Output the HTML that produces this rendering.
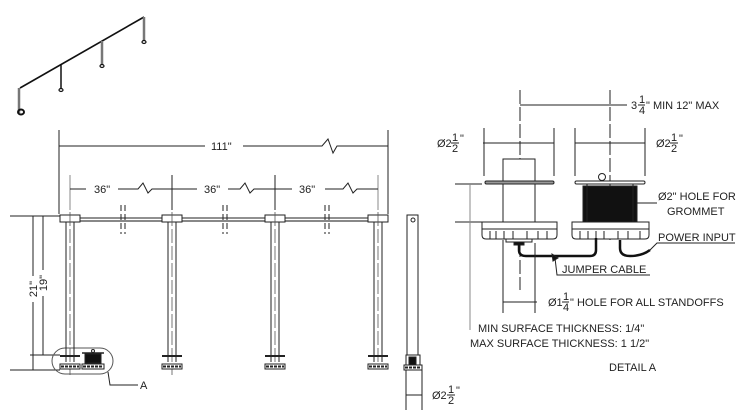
<!DOCTYPE html>
<html><head><meta charset="utf-8"><style>
html,body{margin:0;padding:0;background:#fff;}
svg{display:block;font-family:"Liberation Sans",sans-serif;}
text{fill:#222;font-size:11px;}
</style></head><body>
<svg width="750" height="420" viewBox="0 0 750 420" xmlns="http://www.w3.org/2000/svg">
<!-- ISO view -->
<g stroke="#111" fill="none">
<line x1="20" y1="88" x2="144" y2="17" stroke-width="1.6"/>
<line x1="19" y1="88" x2="19" y2="113" stroke="#777" stroke-width="2.5"/>
<line x1="61" y1="64" x2="61" y2="89" stroke-width="1.5"/>
<line x1="102" y1="41" x2="102" y2="65" stroke="#777" stroke-width="2.5"/>
<line x1="144" y1="17" x2="144" y2="41" stroke="#777" stroke-width="2.5"/>
<ellipse cx="21" cy="112" rx="3" ry="2.5" stroke-width="2"/>
<ellipse cx="61" cy="90" rx="2" ry="1.5" stroke-width="1.2"/>
<ellipse cx="102" cy="66" rx="2" ry="1.5" stroke-width="1.2"/>
<ellipse cx="144" cy="42" rx="2" ry="1.5" stroke-width="1.2"/>
</g>

<!-- Front view dims -->
<g stroke="#222" stroke-width="1" fill="none">
<line x1="59" y1="130" x2="59" y2="214"/>
<line x1="388" y1="130" x2="388" y2="214"/>
<polyline points="59,146 205,146"/>
<polyline points="243,146 322,146 328,139 333,153 337,146 388,146"/>
<line x1="70" y1="175" x2="70" y2="210" stroke="#888"/>
<line x1="172" y1="175" x2="172" y2="210"/>
<line x1="275" y1="175" x2="275" y2="210"/>
<line x1="378" y1="175" x2="378" y2="210" stroke="#888"/>
<polyline points="70,189 86,189"/><polyline points="118,189 138,189 143,183 148,193 152,189 172,189"/>
<polyline points="172,189 197,189"/><polyline points="228,189 240,189 245,183 250,193 254,189 275,189"/>
<polyline points="275,189 292,189"/><polyline points="325,189 343,189 348,183 353,193 357,189 378,189"/>
<line x1="80" y1="218" x2="370" y2="218"/>
<line x1="80" y1="221" x2="370" y2="221" stroke="#888" stroke-width="2"/>
<line x1="121" y1="205" x2="121" y2="234" stroke-dasharray="6,3"/><line x1="125" y1="205" x2="125" y2="234" stroke-dasharray="6,3"/>
<line x1="223" y1="205" x2="223" y2="234" stroke-dasharray="6,3"/><line x1="227" y1="205" x2="227" y2="234" stroke-dasharray="6,3"/>
<line x1="325" y1="205" x2="325" y2="234" stroke-dasharray="6,3"/><line x1="329" y1="205" x2="329" y2="234" stroke-dasharray="6,3"/>
<line x1="10" y1="216" x2="60" y2="216"/>
<line x1="10" y1="370" x2="60" y2="370"/>
<line x1="30" y1="355" x2="60" y2="355"/>
<line x1="33" y1="216" x2="33" y2="276"/><line x1="33" y1="302" x2="33" y2="370"/>
<line x1="43" y1="216" x2="43" y2="270"/><line x1="43" y1="296" x2="43" y2="355"/>
<rect x="52" y="348" width="61" height="26" rx="13" ry="13" stroke="#555"/>
<polyline points="108,372 110,385 138,385"/>
</g>
<text x="211" y="150">111"</text>
<text x="94" y="193">36"</text><text x="204" y="193">36"</text><text x="299" y="193">36"</text>
<text transform="translate(37,289) rotate(-90)" text-anchor="middle">21"</text>
<text transform="translate(47,283) rotate(-90)" text-anchor="middle">19"</text>
<text x="140" y="389">A</text>

<g stroke="#222" stroke-width="1" fill="none">
<g>
<rect x="60" y="215" width="20" height="7" fill="#fff"/><line x1="66" y1="222" x2="66" y2="362"/><line x1="74" y1="222" x2="74" y2="362"/><line x1="70" y1="212" x2="70" y2="375" stroke="#555" stroke-width="0.8" stroke-dasharray="14,3"/>
<line x1="60" y1="356" x2="80" y2="356" stroke-width="2"/><rect x="60" y="364" width="20" height="5" fill="#fff"/><line x1="61" y1="366.5" x2="79" y2="366.5" stroke-width="2" stroke-dasharray="3,1"/>
<rect x="85" y="354" width="16" height="9" fill="#111"/><line x1="82" y1="353" x2="104" y2="353" stroke-width="1.5"/><circle cx="93" cy="351" r="1.5"/><rect x="82" y="364" width="22" height="5" fill="#fff"/><line x1="83" y1="366.5" x2="103" y2="366.5" stroke-width="2" stroke-dasharray="3,1"/>
</g>
<g>
<rect x="162" y="215" width="20" height="7" fill="#fff"/><line x1="168" y1="222" x2="168" y2="362"/><line x1="176" y1="222" x2="176" y2="362"/><line x1="172" y1="212" x2="172" y2="375" stroke="#555" stroke-width="0.8" stroke-dasharray="14,3"/>
<line x1="162" y1="356" x2="182" y2="356" stroke-width="2"/><rect x="162" y="364" width="20" height="5" fill="#fff"/><line x1="163" y1="366.5" x2="181" y2="366.5" stroke-width="2" stroke-dasharray="3,1"/>
</g>
<g>
<rect x="265" y="215" width="20" height="7" fill="#fff"/><line x1="271" y1="222" x2="271" y2="362"/><line x1="279" y1="222" x2="279" y2="362"/><line x1="275" y1="212" x2="275" y2="362" stroke="#555" stroke-width="0.8" stroke-dasharray="14,3"/>
<line x1="265" y1="356" x2="285" y2="356" stroke-width="2"/><rect x="265" y="364" width="20" height="5" fill="#fff"/><line x1="266" y1="366.5" x2="284" y2="366.5" stroke-width="2" stroke-dasharray="3,1"/>
</g>
<g>
<rect x="368" y="215" width="20" height="7" fill="#fff"/><line x1="374" y1="222" x2="374" y2="362"/><line x1="382" y1="222" x2="382" y2="362"/><line x1="378" y1="212" x2="378" y2="362" stroke="#555" stroke-width="0.8" stroke-dasharray="14,3"/>
<line x1="368" y1="356" x2="388" y2="356" stroke-width="2"/><rect x="368" y="364" width="20" height="5" fill="#fff"/><line x1="369" y1="366.5" x2="387" y2="366.5" stroke-width="2" stroke-dasharray="3,1"/>
</g>
<rect x="407" y="215" width="11" height="140" fill="#fff"/><circle cx="413" cy="220" r="2"/>
<rect x="406" y="355" width="14" height="10" fill="#fff"/><rect x="409" y="357" width="7" height="8" fill="#111"/>
<rect x="404" y="365" width="18" height="5" fill="#fff"/><line x1="405" y1="367.5" x2="421" y2="367.5" stroke-width="2" stroke-dasharray="3,1"/>
<line x1="406" y1="370" x2="406" y2="410"/><line x1="422" y1="370" x2="422" y2="410"/>
<line x1="406" y1="395" x2="422" y2="395"/>
</g>
<text x="432" y="399">Ø2</text><text x="448" y="393" font-size="9" fill="#2266aa">1</text><line x1="447" y1="395" x2="455" y2="395" stroke="#222"/><text x="448" y="404" font-size="9" fill="#2266aa">2</text><text x="456" y="394">"</text>

<!-- Detail A -->
<g stroke="#222" stroke-width="1" fill="none">
<line x1="520" y1="90" x2="520" y2="290" stroke-dasharray="14,3"/>
<line x1="610" y1="90" x2="610" y2="240" stroke-dasharray="14,3"/>
<line x1="520" y1="105" x2="627" y2="105"/>
<line x1="484" y1="128" x2="484" y2="176"/><line x1="554" y1="128" x2="554" y2="176"/>
<line x1="575" y1="128" x2="575" y2="176"/><line x1="645" y1="128" x2="645" y2="176"/>
<line x1="483" y1="143" x2="554" y2="143"/><line x1="575" y1="143" x2="645" y2="143"/>
<rect x="503" y="159" width="32" height="64" fill="#fff"/>
<rect x="485" y="181" width="69" height="3" rx="1.5" fill="#999"/>
<rect x="575" y="181" width="70" height="3" rx="1.5" fill="#fff"/>
<circle cx="602" cy="177" r="3.5" fill="#fff"/>
<rect x="583" y="186" width="54" height="36" fill="#111"/>
<line x1="587" y1="184" x2="587" y2="222"/><line x1="633" y1="184" x2="633" y2="222"/>
<line x1="637" y1="203" x2="657" y2="203"/>
<path d="M482,222 H557 V235 Q557,239 553,239 H486 Q482,239 482,235 Z" fill="#fff"/>
<path d="M572,222 H649 V235 Q649,239 645,239 H576 Q572,239 572,235 Z" fill="#fff"/>
<line x1="490" y1="231" x2="490" y2="239"/><line x1="496" y1="231" x2="496" y2="239"/><line x1="504" y1="231" x2="504" y2="239"/><line x1="513" y1="231" x2="513" y2="239"/><line x1="527" y1="231" x2="527" y2="239"/><line x1="538" y1="231" x2="538" y2="239"/><line x1="547" y1="231" x2="547" y2="239"/>
<line x1="482" y1="229" x2="557" y2="229"/><line x1="572" y1="229" x2="649" y2="229"/>
<line x1="580" y1="231" x2="580" y2="239"/><line x1="588" y1="231" x2="588" y2="239"/><line x1="596" y1="231" x2="596" y2="239"/><line x1="604" y1="231" x2="604" y2="239"/><line x1="618" y1="231" x2="618" y2="239"/><line x1="628" y1="231" x2="628" y2="239"/><line x1="640" y1="231" x2="640" y2="239"/>
<rect x="506" y="239" width="26" height="3" fill="#fff"/>
<rect x="514" y="242" width="10" height="3" fill="#111"/>
<path d="M519,244 V250 Q519,256 526,256 H590 Q596,256 596,250 V238" stroke="#111" stroke-width="2.5"/>
<path d="M620,240 V248 Q620,256 630,256 Q642,256 650,250" stroke="#111" stroke-width="2.5"/>
<polyline points="650,250 657,243 735,243"/>
<polyline points="555,258 557,275 650,275"/>
<path d="M552,254 L558,258 L553,261 Z" fill="#111"/>
<line x1="455" y1="184" x2="482" y2="184"/><line x1="455" y1="222" x2="482" y2="222"/>
<line x1="470" y1="184" x2="470" y2="330" stroke="#888"/>
<line x1="503" y1="240" x2="503" y2="313"/><line x1="535" y1="243" x2="535" y2="313"/>
<line x1="503" y1="302" x2="537" y2="302"/>
</g>
<text x="631" y="109">3</text><text x="639" y="103" font-size="9" fill="#2266aa">1</text><line x1="638" y1="105" x2="645" y2="105" stroke="#222"/><text x="639" y="114" font-size="9" fill="#2266aa">4</text><text x="646" y="109">" MIN  12" MAX</text>
<text x="437" y="147">Ø2</text><text x="452" y="141" font-size="9" fill="#2266aa">1</text><line x1="451" y1="143" x2="459" y2="143" stroke="#222"/><text x="452" y="152" font-size="9" fill="#2266aa">2</text><text x="460" y="142">"</text>
<text x="656" y="147">Ø2</text><text x="671" y="141" font-size="9" fill="#2266aa">1</text><line x1="670" y1="143" x2="678" y2="143" stroke="#222"/><text x="671" y="152" font-size="9" fill="#2266aa">2</text><text x="679" y="142">"</text>
<text x="658" y="200">Ø2" HOLE FOR</text>
<text x="667" y="215">GROMMET</text>
<text x="658" y="241">POWER INPUT</text>
<text x="562" y="273">JUMPER CABLE</text>
<text x="548" y="306">Ø1</text><text x="563" y="300" font-size="9" fill="#2266aa">1</text><line x1="562" y1="302" x2="569" y2="302" stroke="#222"/><text x="563" y="311" font-size="9" fill="#2266aa">4</text><text x="570" y="306">" HOLE FOR ALL STANDOFFS</text>
<text x="478" y="332">MIN SURFACE THICKNESS: 1/4"</text>
<text x="470" y="347">MAX SURFACE THICKNESS: 1 1/2"</text>
<text x="609" y="371">DETAIL A</text>
</svg>
</body></html>
